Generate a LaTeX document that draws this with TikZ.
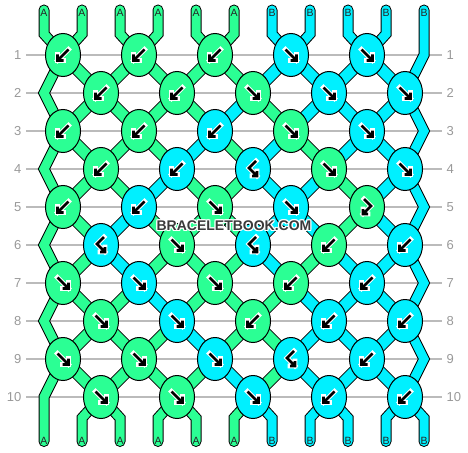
\documentclass[tikz,border=0pt]{standalone}
\usepackage{fontspec}
\setmainfont{Liberation Sans}
\usetikzlibrary{shapes.geometric}
\definecolor{cA}{HTML}{2BFF94}
\definecolor{cB}{HTML}{00F0FF}
\definecolor{gridgray}{HTML}{BBBBBB}
\definecolor{labgray}{HTML}{999999}
\definecolor{wmgray}{HTML}{3A3A3A}
\def\cols{{0,0,0,0,0,0,1,1,1,1,1,0,0,0,0,0,0,1,1,1,1,1,0,0,0,0,0,1,0,1,1,1,1,0,0,0,0,1,0,1,0,1,1,1,0,0,0,1,0,0,1,1,0,1,1,0,0,1,0,0,0,1,1,0,1,1,0,0,1,0,0,0,1,0,1,1,1,0,0,0,1,0,0,0,1,1,1,1,0,0,0,0,1,0,0,1,1,1,1,0,0,0,0,0,1,0,1,1,1,1,0,0,0,0,0,0,1,1,1,1,1}}
\newcommand\segcolor[1]{\pgfmathtruncatemacro\ci{\cols[#1]}\ifnum\ci=0 \def\cc{cA}\else\def\cc{cB}\fi\ifnum\passmode=0 \def\cc{black}\fi}
\newcommand\allstrands{%
  \foreach \r in {1,...,9}{
    \foreach \p in {1,...,9}{
      \pgfmathtruncatemacro\rn{\r+1}
      \pgfmathtruncatemacro\ka{floor((\p-1+mod(\r,2))/2)}
      \pgfmathtruncatemacro\kb{floor((\p-1+mod(\rn,2))/2)}
      \segcolor{\r*11+\p}
      \draw[strand,line width=\lwk,draw=\cc] (p-\r-\ka) -- (p-\rn-\kb);
    }}
  \foreach \p in {0,...,9}{
    \pgfmathtruncatemacro\ka{floor(\p/2)}
    \segcolor{\p}
    \draw[strand,line width=\lw,draw=\cc] (TE-\p) -- (T-\p) -- (p-1-\ka);
  }
  \foreach \p in {1,...,10}{
    \pgfmathtruncatemacro\ka{floor((\p-1)/2)}
    \segcolor{110+\p}
    \draw[strand,line width=\lw,draw=\cc] (p-10-\ka) -- (Bb-\p) -- (BE-\p);
  }
  \segcolor{0}
  \foreach \r in {1,3,5,7}{
    \pgfmathtruncatemacro\rn{\r+1}
    \pgfmathtruncatemacro\rnn{\r+2}
    \draw[strand,line width=\lw,draw=\cc] (p-\r-0) -- (L-\rn) -- (p-\rnn-0);
  }
  \draw[strand,line width=\lw,draw=\cc] (p-9-0) -- (L-10) -- (Bb-0) -- (BE-0);
  \segcolor{10}
  \draw[strand,line width=\lw,draw=\cc] (TE-10) -- (R-1) -- (p-2-4);
  \foreach \r in {2,4,6,8}{
    \pgfmathtruncatemacro\rn{\r+1}
    \pgfmathtruncatemacro\rnn{\r+2}
    \draw[strand,line width=\lw,draw=\cc] (p-\r-4) -- (R-\rn) -- (p-\rnn-4);
  }
}
\newcommand\glyph[1]{\draw[arrw] #1; \draw[arrb] #1;}
\newcommand\arrF{\glyph{(-5.5,-5.5) -- (5.5,5.5) (5.5,-0.5) -- (5.5,5.5) -- (-0.5,5.5)}}
\newcommand\arrB{\glyph{(5.5,-5.5) -- (-5.5,5.5) (-5.5,-0.5) -- (-5.5,5.5) -- (0.5,5.5)}}
\newcommand\arrFB{\glyph{(-3,-8) -- (4,-1) -- (-4,7) (-4,2) -- (-4,7) -- (1,7)}}
\newcommand\arrBF{\glyph{(3,-8) -- (-4,-1) -- (4,7) (4,2) -- (4,7) -- (-1,7)}}
\begin{document}
\begin{tikzpicture}[x=1pt,y=-1pt,
  strand/.style={line cap=round,line join=miter},
  knot/.style={ellipse,draw=black,line width=1pt,minimum width=35pt,minimum height=43pt,inner sep=0pt},
  arrw/.style={draw=white,line width=4.8pt,line cap=rect,line join=miter},
  arrb/.style={draw=black,line width=2.6pt,line cap=butt,line join=miter},
  gridline/.style={draw=gridgray,line width=1.2pt},
  rowlab/.style={text=labgray,font=\fontsize{13}{13}\selectfont,inner sep=0pt},
  endlab/.style={text=black!85,font=\fontsize{10.5}{10.5}\selectfont,inner sep=0pt},
  wm/.style={font=\fontsize{14}{14}\selectfont\bfseries,inner sep=0pt}]
\useasboundingbox (0,0) rectangle (468,452);
% coordinates
\foreach \r in {1,...,10}{
  \pgfmathsetmacro\y{55+38*(\r-1)}
  \foreach \k in {0,...,4}{
    \pgfmathsetmacro\x{63+38*(1-mod(\r,2))+76*\k}
    \coordinate (p-\r-\k) at (\x,\y);
  }
  \coordinate (L-\r) at (44,\y);
  \coordinate (R-\r) at (424,\y);
  \coordinate (gl-\r) at (26,\y);
  \coordinate (gr-\r) at (442,\y);
}
\foreach \p in {0,...,10}{
  \pgfmathsetmacro\x{44+38*\p}
  \coordinate (TE-\p) at (\x,10);
  \coordinate (T-\p) at (\x,34);
  \coordinate (Bb-\p) at (\x,418);
  \coordinate (BE-\p) at (\x,441.5);
}
% grid lines and row labels
\foreach \r in {1,...,10}{
  \draw[gridline] (gl-\r) -- (gr-\r);
  \pgfmathsetmacro\y{55+38*(\r-1)}
  \node[rowlab,anchor=east] (nl-\r) at (21.5,\y) {\r};
  \node[rowlab,anchor=west] (nr-\r) at (446.5,\y) {\r};
}
% strands: outline pass then colour pass
\def\passmode{0}\def\lw{11pt}\def\lwk{13pt}
\allstrands
\def\passmode{1}\def\lw{9pt}\def\lwk{11pt}
\allstrands
% end labels
\foreach \p/\l in {0/A,1/A,2/A,3/A,4/A,5/A,6/B,7/B,8/B,9/B,10/B}{
  \pgfmathsetmacro\x{44+38*\p}
  \node[endlab] (ta-\p) at (\x,12.5) {\l};
  \node[endlab] (ba-\p) at (\x,441) {\l};
}
% knots
\foreach \r/\lst in {
  1/{B/A,B/A,B/A,F/B,F/B},
  2/{B/A,B/A,F/A,F/B,F/B},
  3/{B/A,B/A,B/B,F/A,F/B},
  4/{B/A,B/B,BF/B,F/A,F/B},
  5/{B/A,B/B,F/A,F/B,FB/A},
  6/{BF/B,F/A,BF/B,B/A,B/B},
  7/{F/A,F/B,F/A,B/A,B/B},
  8/{F/A,F/B,B/A,B/B,B/B},
  9/{F/A,F/A,F/B,BF/B,B/B},
  10/{F/A,F/A,F/B,B/B,B/B}}{
  \foreach \t/\c [count=\kk from 0] in \lst {
    \node[knot,fill=c\c] (k-\r-\kk) at (p-\r-\kk) {};
    \begin{scope}[shift={(k-\r-\kk.center)}]
      \csname arr\t\endcsname
    \end{scope}
  }
}
% watermark
\foreach \dx/\dy [count=\i] in {-1/-1,-1/0,-1/1,0/-1,0/1,1/-1,1/0,1/1}{
  \node[wm,text=white] (wmh-\i) at (234+\dx,226+\dy) {BRACELETBOOK.COM};
}
\node[wm,text=wmgray] (wm) at (234,226) {BRACELETBOOK.COM};
\end{tikzpicture}
\end{document}
